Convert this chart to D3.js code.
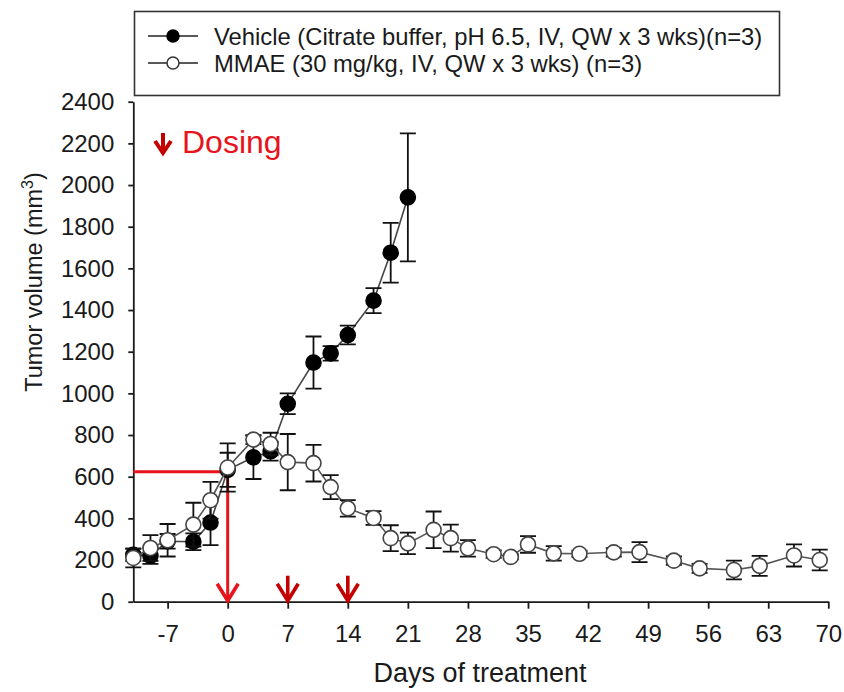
<!DOCTYPE html>
<html><head><meta charset="utf-8">
<script src="https://cdn.jsdelivr.net/npm/d3@7"></script>
<style>body{margin:0;background:#fff}svg{display:block;font-family:"Liberation Sans",Arial,sans-serif}</style>
</head><body><svg id="c" width="844" height="692"></svg>
<script>
// ---- data ----
const vehDays  = [-11,-9,-7,-4,-2,0,3,5,7,10,12,14,17,19,21];
const vehMean  = [225,220,290,288,380,633,693,722,950,1148,1192,1280,1445,1675,1941];
const vehErr   = [30,38,35,40,108,82,104,45,50,125,35,45,60,143,307];
const mmaeDays = [-11,-9,-7,-4,-2,0,3,5,7,10,12,14,17,19,21,24,26,28,31,33,35,38,41,45,48,52,55,59,62,66,69];
const mmaeMean = [210,258,295,370,487,644,778,757,670,665,550,448,402,305,280,345,305,256,228,215,275,232,230,237,238,197,160,152,172,222,200];
const mmaeErr  = [45,62,78,105,88,116,22,54,135,88,58,40,33,62,52,88,65,40,18,12,40,35,15,20,48,20,22,45,48,53,50];
const xTickLabels = [-7,0,7,14,21,28,35,42,49,56,63,70];
const yTickLabels = [0,200,400,600,800,1000,1200,1400,1600,1800,2000,2200,2400];
const doseDays = [0,7,14];
const refLevel = 624;
const legendLabels = ["Vehicle (Citrate buffer, pH 6.5, IV, QW x 3 wks)(n=3)","MMAE (30 mg/kg, IV, QW x 3 wks) (n=3)"];

// ---- chart ----
const svg = d3.select("#c");
const x = d3.scaleLinear().domain([-11,70]).range([133.3,828.3]);
const y = d3.scaleLinear().domain([0,2400]).range([601.7,101.7]);
const ink = "#1a1a1a";
const plain = d => String(d);

// axes
const gx = svg.append("g").attr("transform",`translate(0,${y(0)})`)
  .call(d3.axisBottom(x).tickValues(xTickLabels).tickFormat(plain).tickSize(7).tickSizeOuter(0).tickPadding(16));
const gy = svg.append("g").attr("transform",`translate(${x(-11)},0)`)
  .call(d3.axisLeft(y).tickValues(yTickLabels).tickFormat(plain).tickSize(5).tickSizeOuter(0).tickPadding(14));
[gx,gy].forEach(g=>{
  g.select(".domain").attr("stroke",ink).attr("stroke-width",1.8);
  g.selectAll(".tick line").attr("stroke",ink).attr("stroke-width",1.8);
  g.selectAll(".tick text").attr("fill",ink).attr("font-size",24).attr("font-family",'"Liberation Sans",Arial,sans-serif');
});

// axis titles
svg.append("text").attr("x",480).attr("y",682).attr("text-anchor","middle")
  .attr("font-size",27).attr("fill",ink).text("Days of treatment");
const yt = svg.append("text").attr("transform","translate(41.5,282) rotate(-90)")
  .attr("text-anchor","middle").attr("font-size",23.5).attr("fill",ink);
yt.append("tspan").text("Tumor volume (mm");
yt.append("tspan").attr("font-size",16).attr("dy",-9).text("3");
yt.append("tspan").attr("dy",9).text(")");

// red reference lines & dosing arrows
const red = "#e8141c", dred = "#c40000";
svg.append("path").attr("fill","none").attr("stroke",red).attr("stroke-width",3)
  .attr("d",`M${x(-11)},${y(refLevel)}H${x(0)}V${y(0)-2}`);
doseDays.forEach(d=>{
  const cx = x(d), by = y(0);
  const g = svg.append("g").attr("fill","none").attr("stroke",d===0?red:dred)
    .attr("stroke-width",3.6).attr("stroke-linejoin","miter");
  if(d!==0) g.append("path").attr("d",`M${cx},${by-26}V${by-2}`);
  g.append("path").attr("d",`M${cx-10.5},${by-18}L${cx},${by-1}L${cx+10.5},${by-18}`);
});

// Dosing label
svg.append("path").attr("fill","none").attr("stroke",dred).attr("stroke-width",4)
  .attr("d","M163,133V151M155,141L163,153L171,141");
svg.append("text").attr("x",182).attr("y",153).attr("font-size",32).attr("fill",red).text("Dosing");

// series
function drawSeries(days, mean, err, filled, lineColor){
  const pts = days.map((d,i)=>({d, m:mean[i], e:err[i]}));
  svg.append("path").datum(pts).attr("fill","none").attr("stroke",lineColor).attr("stroke-width",1.6)
    .attr("d",d3.line().x(p=>x(p.d)).y(p=>y(p.m)));
  const eg = svg.append("g").attr("stroke","#111").attr("stroke-width",1.8).attr("fill","none");
  eg.selectAll("path").data(pts).join("path")
    .attr("d",p=>{const cx=x(p.d), t=y(p.m+p.e), b=y(p.m-p.e);
      return `M${cx},${t}V${b}M${cx-8},${t}H${cx+8}M${cx-8},${b}H${cx+8}`;});
  svg.append("g").selectAll("circle").data(pts).join("circle")
    .attr("cx",p=>x(p.d)).attr("cy",p=>y(p.m)).attr("r",7.5)
    .attr("fill",filled?"#000":"#fff").attr("stroke",filled?"#000":"#444").attr("stroke-width",1.6);
}
drawSeries(vehDays, vehMean, vehErr, true, "#444");
drawSeries(mmaeDays, mmaeMean, mmaeErr, false, "#555");

// legend
const lg = svg.append("g");
lg.append("rect").attr("x",134.5).attr("y",11.5).attr("width",645).attr("height",84)
  .attr("fill","#fff").attr("stroke","#333").attr("stroke-width",1.6);
legendLabels.forEach((lab,i)=>{
  const cy = 36 + i*27;
  lg.append("line").attr("x1",148).attr("x2",198).attr("y1",cy).attr("y2",cy).attr("stroke","#222").attr("stroke-width",1.6);
  lg.append("circle").attr("cx",173).attr("cy",cy).attr("r",6)
    .attr("fill",i===0?"#000":"#fff").attr("stroke",i===0?"#000":"#333").attr("stroke-width",1.5);
  lg.append("text").attr("x",214).attr("y",cy+8.5).attr("font-size",23.8).attr("fill",ink).text(lab);
});
</script></body></html>
